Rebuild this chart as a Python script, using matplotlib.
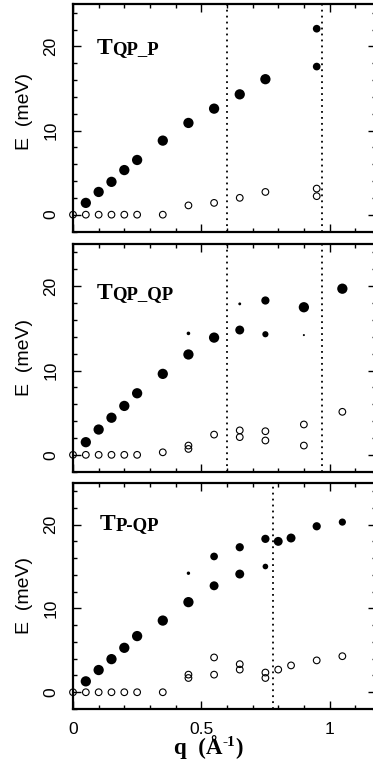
import matplotlib
matplotlib.use("Agg")
import matplotlib.pyplot as plt
from matplotlib.ticker import MultipleLocator, FixedLocator, FixedFormatter

# ---- data ----
# panel 1 : T_QP_P
q1_full = [0.05, 0.1, 0.15, 0.2, 0.25, 0.35, 0.45, 0.55, 0.65, 0.75, 0.95, 0.95]
e1_full = [1.4, 2.7, 3.9, 5.3, 6.5, 8.8, 10.9, 12.6, 14.3, 16.1, 22.1, 17.6]
w1_full = [1, 1, 1, 1, 1, 1, 1, 1, 1, 1, 0.75, 0.75]
q1_open = [0, 0.05, 0.1, 0.15, 0.2, 0.25, 0.35, 0.45, 0.55, 0.65, 0.75, 0.95, 0.95]
e1_open = [0, 0, 0, 0, 0, 0, 0, 1.1, 1.4, 2.0, 2.7, 3.1, 2.2]
vl1 = [0.6, 0.97]

# panel 2 : T_QP_QP
q2_full = [0.05, 0.1, 0.15, 0.2, 0.25, 0.35, 0.45, 0.55, 0.65, 0.75, 0.75, 0.9, 1.05,
           0.45, 0.65, 0.9]
e2_full = [1.5, 3.0, 4.4, 5.8, 7.3, 9.6, 11.9, 13.9, 14.8, 18.3, 14.3, 17.5, 19.7,
           14.4, 17.9, 14.2]
w2_full = [1, 1, 1, 1, 1, 1, 1, 1, 0.87, 0.8, 0.6, 1, 1, 0.35, 0.28, 0.2]
q2_open = [0, 0.05, 0.1, 0.15, 0.2, 0.25, 0.35, 0.45, 0.45, 0.55, 0.65, 0.65, 0.75, 0.75,
           0.9, 0.9, 1.05]
e2_open = [0, 0, 0, 0, 0, 0, 0.3, 1.1, 0.7, 2.4, 2.9, 2.1, 2.8, 1.7, 3.6, 1.1, 5.1]
vl2 = [0.6, 0.97]

# panel 3 : T_P-QP
q3_full = [0.05, 0.1, 0.15, 0.2, 0.25, 0.35, 0.45, 0.55, 0.55, 0.65, 0.65, 0.75, 0.75,
           0.8, 0.85, 0.95, 1.05, 0.45]
e3_full = [1.3, 2.65, 3.95, 5.3, 6.7, 8.55, 10.75, 12.7, 16.2, 14.1, 17.3, 18.3, 15.0,
           18.0, 18.4, 19.8, 20.3, 14.2]
w3_full = [1, 1, 1, 1, 1, 1, 1, 0.87, 0.75, 0.87, 0.8, 0.8, 0.55,
           0.87, 0.87, 0.8, 0.7, 0.33]
q3_open = [0, 0.05, 0.1, 0.15, 0.2, 0.25, 0.35, 0.45, 0.45, 0.55, 0.55, 0.65, 0.65,
           0.75, 0.75, 0.8, 0.85, 0.95, 1.05]
e3_open = [0, 0, 0, 0, 0, 0, 0, 2.1, 1.7, 4.15, 2.1, 3.35, 2.7, 2.35, 1.7, 2.7, 3.2, 3.8, 4.3]
vl3 = [0.78]

# label: (big letter, rest)
labels = [("T", "QP_P"), ("T", "QP_QP"), ("T", "P-QP")]
xticks = [0, 0.5, 1]
xticklabels = ["0", "0.5", "1"]

panels = [
    (q1_full, e1_full, w1_full, q1_open, e1_open, vl1),
    (q2_full, e2_full, w2_full, q2_open, e2_open, vl2),
    (q3_full, e3_full, w3_full, q3_open, e3_open, vl3),
]

SANS = "Liberation Sans"
SERIF = "Liberation Serif"

fig = plt.figure(figsize=(3.73, 7.74), dpi=100)
W, H = 373.0, 774.0

# axes boxes in pixels (top, bottom)
boxes = [(4.3, 231.5), (244.0, 471.7), (482.7, 709.0)]
left_px, right_px = 73.0, 375.7
ylab_y = [0.53, 0.5, 0.5]
lab_pos = [(0.092, 19.1), (0.092, 18.5), (0.105, 19.4)]

renderer = fig.canvas.get_renderer()

for i, (qf, ef, wf, qo, eo, vls) in enumerate(panels):
    top, bot = boxes[i]
    ax = fig.add_axes([left_px / W, (H - bot) / H, (right_px - left_px) / W, (bot - top) / H])
    ax.set_xlim(0, 1.18)
    ax.set_ylim(-2, 25)

    for v in vls:
        ax.axvline(v, color="black", lw=1.3, linestyle=(0, (1, 2.3)), zorder=1)

    ax.scatter(qo, eo, s=4.8 ** 2, facecolors="none", edgecolors="black",
               linewidths=0.8, zorder=3, clip_on=False)
    ax.scatter(qf, ef, s=[(7.4 * w) ** 2 for w in wf], color="black",
               linewidths=0, zorder=4)

    for sp in ax.spines.values():
        sp.set_linewidth(1.6)

    ax.xaxis.set_major_locator(FixedLocator(xticks))
    ax.xaxis.set_major_formatter(FixedFormatter(xticklabels))
    ax.xaxis.set_minor_locator(MultipleLocator(0.1))
    ax.yaxis.set_major_locator(FixedLocator([0, 10, 20]))
    ax.yaxis.set_minor_locator(MultipleLocator(2))
    ax.tick_params(which="both", direction="in", top=True, right=True, width=1.0)
    ax.tick_params(which="major", length=5.5)
    ax.tick_params(which="minor", length=3)
    ax.tick_params(axis="y", labelsize=12.5, pad=10.5)
    ax.tick_params(axis="x", labelsize=12.5, pad=9)
    for lab in ax.get_yticklabels():
        lab.set_rotation(90)
        lab.set_va("center")
        lab.set_family(SANS)
    for lab in ax.get_xticklabels():
        lab.set_family(SANS)
    if i < 2:
        ax.tick_params(axis="x", labelbottom=False)

    ax.set_ylabel("E  (meV)", fontsize=14, family=SANS)
    ax.yaxis.set_label_coords(-0.132, ylab_y[i])

    # panel label: big T followed by smaller letters
    big, rest = labels[i]
    lx, ly = lab_pos[i]
    t = ax.text(lx, ly, big, fontsize=17, family=SERIF, weight="bold", va="baseline")
    bb = t.get_window_extent(renderer=renderer)
    x0 = ax.transData.transform((lx, ly))[0]
    ax.annotate(rest, xy=(lx, ly), xytext=((bb.x1 - x0) * 72 / fig.dpi, 0),
                textcoords="offset points", fontsize=13.5, family=SERIF,
                weight="bold", va="baseline")

# x label "q (Å-1)" with raised -1, built from pieces
parts = [("q  (Å", 16.5, 0), ("-1", 11, 6), (")", 16.5, 0)]
base_y = (H - 754.0) / H
texts = []
xpos = 0.0
for s, fs, dy in parts:
    t = fig.text(xpos, base_y + dy / 72 * fig.dpi / H, s, fontsize=fs, family=SERIF,
                 weight="bold", va="baseline")
    bb = t.get_window_extent(renderer=renderer)
    texts.append(t)
    xpos += bb.width / W
center = 208.0 / W
shift = center - xpos / 2
for t in texts:
    x, y = t.get_position()
    t.set_position((x + shift, y))

fig.savefig("out.png", dpi=100)
